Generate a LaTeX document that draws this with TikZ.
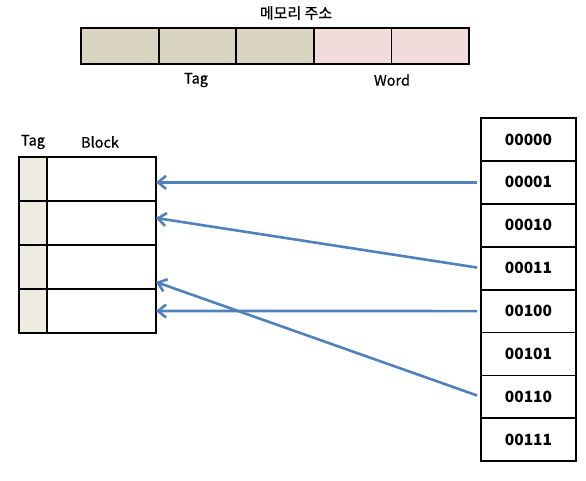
\documentclass[tikz,border=0pt]{standalone}
\usepackage{fontspec}
\setmainfont{Noto Sans CJK KR}
\newfontfamily\labelfont[FakeBold=0.6]{Noto Sans CJK KR}
\usetikzlibrary{arrows.meta,positioning}

\definecolor{tagfill}{RGB}{217,213,192}
\definecolor{wordfill}{RGB}{242,220,219}
\definecolor{tagcol}{RGB}{238,236,225}
\definecolor{linkblue}{RGB}{79,129,189}

\tikzset{
  addrcell/.style={draw, line width=1.8pt, minimum width=77.6pt, minimum height=36pt,
    inner sep=0pt, outer sep=0pt},
  tagcell/.style={draw, line width=2.2pt, fill=tagcol, minimum width=28pt, minimum height=44pt,
    inner sep=0pt, outer sep=0pt},
  blockcell/.style={draw, line width=2.2pt, minimum width=109pt, minimum height=44pt,
    inner sep=0pt, outer sep=0pt},
  memcell/.style={draw, line width=1.8pt, minimum width=95pt, minimum height=42.9pt,
    inner sep=0pt, outer sep=0pt, font=\fontsize{15.5}{17}\selectfont\bfseries},
  label/.style={font=\fontsize{14.5}{16}\selectfont\labelfont},
  link/.style={draw=linkblue, line width=2.6pt, shorten <=4pt,
    -{Straight Barb[length=8pt,width=13pt]}}
}

\begin{document}
\begin{tikzpicture}[x=1pt,y=-1pt]
  \useasboundingbox (0,0) rectangle (586,480);

  % memory address
  \node[label, font=\fontsize{15}{17}\selectfont\labelfont] (title) at (296,13) {메모리 주소};
  \foreach \i/\c in {1/tagfill,2/tagfill,3/tagfill,4/wordfill,5/wordfill}
    \node[addrcell, fill=\c] (a\i) at (81+77.6*\i-38.8,46) {};
  \node[label] (tagtxt) at (196,80) {Tag};
  \node[label] (wordtxt) at (392,80) {Word};

  % cache
  \node[label] (ctag) at (33,142) {Tag};
  \node[label] (cblock) at (100,142) {Block};
  \foreach \r in {1,...,4}{
    \node[tagcell] (t\r) at (33,157+44*\r-22) {};
    \node[blockcell, right=0pt of t\r] (b\r) {};}

  % main memory
  \foreach \r/\L in {1/00000,2/00001,3/00010,4/00011,5/00100,6/00101,7/00110,8/00111}
    \node[memcell] (m\r) at (528.5,118+42.9*\r-21.45) {\L};

  % mapping
  \draw[link] (m2.west) -- (m2.west -| b1.east);
  \draw[link] (m4.west) -- ([yshift=5pt]b2.east);
  \draw[link] (m5.west) -- (b4.east);
  \draw[link] (m7.west) -- ([yshift=-15pt]b3.east);
\end{tikzpicture}
\end{document}
